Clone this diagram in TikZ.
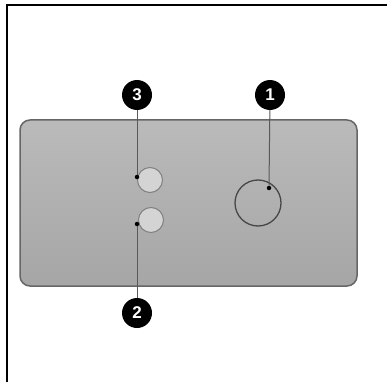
\documentclass[tikz,border=0pt]{standalone}
\usepackage{fontspec}
\setmainfont{Liberation Sans}
\begin{document}
\begin{tikzpicture}[x=1pt,y=-1pt,
  badge/.style={circle,fill=black,text=white,font=\bfseries\fontsize{17}{17}\selectfont,minimum size=30pt,inner sep=0pt},
  leader/.style={draw=black!65,line width=1pt},
  pin/.style={circle,fill=black,minimum size=4.5pt,inner sep=0pt},
  smallhole/.style={circle,draw=black!50,line width=1pt,fill=black!17,minimum size=25pt,inner sep=0pt},
  bighole/.style={circle,draw=black!72,line width=1.3pt,minimum size=46pt,inner sep=0pt}]
\useasboundingbox (0,0) rectangle (387,382);
\draw[line width=2pt] (7,382) -- (7,5) -- (387,5);
\shade[top color=black!27,bottom color=black!35,draw=black!60,line width=1.5pt,rounded corners=10pt]
  (20,120) rectangle (357,286);
\node[bighole] (h1) at (258,203) {};
\node[smallhole] (h3) at (150,180) {};
\node[smallhole] (h2) at (151,220) {};
\node[badge] (b1) at (270,95) {1};
\node[badge] (b3) at (137,95) {3};
\node[badge] (b2) at (137,313) {2};
\node[pin] (p1) at (269,188) {};
\node[pin] (p3) at (137,177) {};
\node[pin] (p2) at (137,224) {};
\draw[leader] (b1) -- (p1);
\draw[leader] (b3) -- (p3);
\draw[leader] (b2) -- (p2);
\end{tikzpicture}
\end{document}
